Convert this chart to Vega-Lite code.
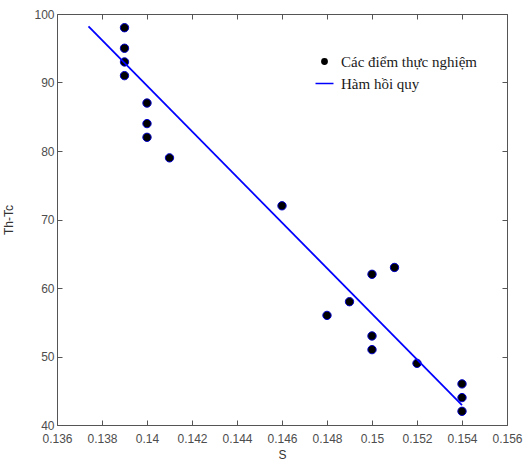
{
  "$schema": "https://vega.github.io/schema/vega-lite/v6.json",
  "width": 450,
  "height": 411,
  "autosize": {"type": "none"},
  "padding": {"left": 57, "top": 14, "right": 22, "bottom": 37},
  "background": "white",
  "config": {
    "view": {"stroke": "#555555", "strokeWidth": 1},
    "axis": {
      "grid": false,
      "domain": false,
      "tickColor": "#555555",
      "tickSize": -5,
      "labelOverlap": false,
      "labelFlush": false,
      "labelFont": "Liberation Sans",
      "labelFontSize": 12,
      "labelColor": "#4d4d4d",
      "titleFont": "Liberation Sans",
      "titleFontSize": 12,
      "titleFontWeight": "normal",
      "titleColor": "#333333"
    }
  },
  "datasets": {
    "pts": [
      {"S": 0.139, "T": 98, "series": "Các điểm thực nghiệm"},
      {"S": 0.139, "T": 95, "series": "Các điểm thực nghiệm"},
      {"S": 0.139, "T": 93, "series": "Các điểm thực nghiệm"},
      {"S": 0.139, "T": 91, "series": "Các điểm thực nghiệm"},
      {"S": 0.14, "T": 87, "series": "Các điểm thực nghiệm"},
      {"S": 0.14, "T": 84, "series": "Các điểm thực nghiệm"},
      {"S": 0.14, "T": 82, "series": "Các điểm thực nghiệm"},
      {"S": 0.141, "T": 79, "series": "Các điểm thực nghiệm"},
      {"S": 0.146, "T": 72, "series": "Các điểm thực nghiệm"},
      {"S": 0.148, "T": 56, "series": "Các điểm thực nghiệm"},
      {"S": 0.149, "T": 58, "series": "Các điểm thực nghiệm"},
      {"S": 0.15, "T": 62, "series": "Các điểm thực nghiệm"},
      {"S": 0.15, "T": 53, "series": "Các điểm thực nghiệm"},
      {"S": 0.15, "T": 51, "series": "Các điểm thực nghiệm"},
      {"S": 0.151, "T": 63, "series": "Các điểm thực nghiệm"},
      {"S": 0.152, "T": 49, "series": "Các điểm thực nghiệm"},
      {"S": 0.154, "T": 46, "series": "Các điểm thực nghiệm"},
      {"S": 0.154, "T": 44, "series": "Các điểm thực nghiệm"},
      {"S": 0.154, "T": 42, "series": "Các điểm thực nghiệm"}
    ],
    "fit": [
      {"S": 0.1374, "T": 98.2, "series": "Hàm hồi quy"},
      {"S": 0.154, "T": 42.9, "series": "Hàm hồi quy"}
    ]
  },
  "resolve": {"scale": {"x": "independent", "y": "independent"}, "axis": {"x": "independent", "y": "independent"}},
  "layer": [
    {
      "data": {"name": "pts"},
      "mark": {"type": "point", "filled": true, "stroke": "#0000cc", "strokeWidth": 1, "opacity": 1, "size": 70},
      "encoding": {
        "x": {"field": "S", "type": "quantitative", "scale": {"domain": [0.136, 0.156], "nice": false, "zero": false},
              "axis": {"orient": "top", "labels": false, "title": null, "values": [0.136, 0.138, 0.14, 0.142, 0.144, 0.146, 0.148, 0.15, 0.152, 0.154, 0.156]}},
        "y": {"field": "T", "type": "quantitative", "scale": {"domain": [40, 100], "nice": false, "zero": false},
              "axis": {"orient": "right", "labels": false, "title": null, "values": [40, 50, 60, 70, 80, 90, 100]}},
        "color": {"field": "series", "type": "nominal",
                  "scale": {"domain": ["Các điểm thực nghiệm", "Hàm hồi quy"], "range": ["#000000", "#0000ff"]},
                  "legend": {
                    "title": null, "orient": "none", "legendX": 260, "legendY": 40,
                    "labelFont": "Liberation Serif", "labelFontSize": 15, "labelColor": "#1a1a1a",
                    "symbolSize": 28, "rowPadding": 6, "labelOffset": 9,
                    "encode": {"symbols": {"update": {"stroke": {"scale": "color", "field": "value"}, "strokeWidth": {"value": 1.3}}}}
                  }},
        "shape": {"field": "series", "type": "nominal",
                  "scale": {"domain": ["Các điểm thực nghiệm", "Hàm hồi quy"], "range": ["circle", "M-3.4,0H3.4"]},
                  "legend": null}
      }
    },
    {
      "data": {"name": "fit"},
      "mark": {"type": "line", "strokeWidth": 1.8},
      "encoding": {
        "x": {"field": "S", "type": "quantitative", "scale": {"domain": [0.136, 0.156], "nice": false, "zero": false},
              "axis": {"orient": "bottom", "title": "S", "format": "~g", "labelPadding": 13, "titlePadding": 5,
                       "values": [0.136, 0.138, 0.14, 0.142, 0.144, 0.146, 0.148, 0.15, 0.152, 0.154, 0.156]}},
        "y": {"field": "T", "type": "quantitative", "scale": {"domain": [40, 100], "nice": false, "zero": false},
              "axis": {"orient": "left", "title": "Th-Tc", "labelPadding": 8, "titlePadding": 18,
                       "values": [40, 50, 60, 70, 80, 90, 100]}},
        "color": {"field": "series", "type": "nominal",
                  "scale": {"domain": ["Các điểm thực nghiệm", "Hàm hồi quy"], "range": ["#000000", "#0000ff"]}}
      }
    }
  ]
}
